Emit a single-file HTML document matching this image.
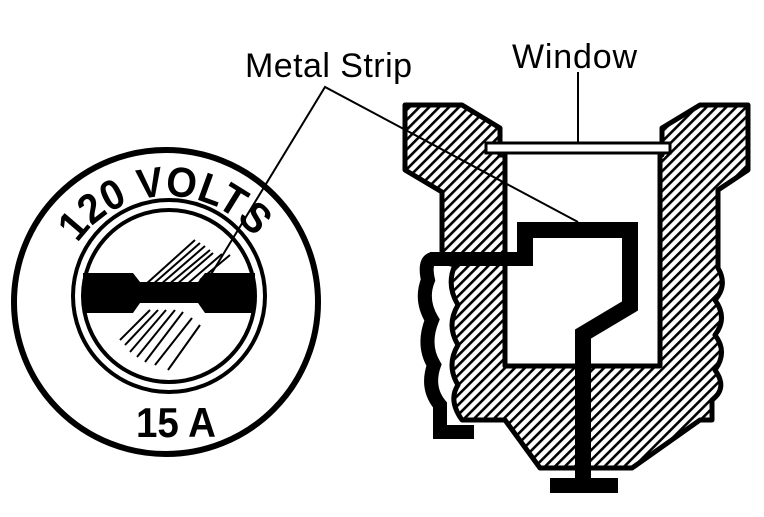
<!DOCTYPE html>
<html><head><style>html,body{margin:0;padding:0;background:#fff}</style></head><body>
<svg width="764" height="512" viewBox="0 0 764 512" xmlns="http://www.w3.org/2000/svg">
<defs>
<pattern id="h" patternUnits="userSpaceOnUse" width="7" height="7" patternTransform="rotate(45)">
<rect width="7" height="7" fill="#fff"/><rect x="0" y="0" width="2.6" height="7" fill="#000"/>
</pattern>
<path id="arc" d="M 58 306 A 110 110 0 0 1 278 306"/>
</defs>
<text x="245" y="77" font-family="Liberation Sans, sans-serif" font-size="34" fill="#000" textLength="167">Metal Strip</text>
<text x="512" y="68" font-family="Liberation Sans, sans-serif" font-size="34" fill="#000" textLength="125">Window</text>
<line x1="578" y1="72" x2="578" y2="142" stroke="#000" stroke-width="2"/>
<!-- fuse cap -->
<circle cx="166" cy="302" r="152" fill="#fff" stroke="#000" stroke-width="6"/>
<circle cx="169" cy="296" r="96" fill="#fff" stroke="#000" stroke-width="4"/>
<circle cx="169" cy="296" r="86" fill="#fff" stroke="#000" stroke-width="4"/>
<g stroke="#000" stroke-width="2">
<line x1="145" y1="285" x2="195" y2="240"/><line x1="152" y1="285" x2="200" y2="243"/><line x1="160" y1="285" x2="205" y2="246"/><line x1="168" y1="285" x2="210" y2="250"/><line x1="176" y1="285" x2="213" y2="253"/><line x1="186" y1="285" x2="222" y2="254"/><line x1="200" y1="280" x2="230" y2="255"/>
<line x1="120" y1="340" x2="150" y2="310"/><line x1="125" y1="345" x2="158" y2="310"/><line x1="130" y1="352" x2="166" y2="310"/><line x1="137" y1="357" x2="175" y2="310"/><line x1="145" y1="362" x2="183" y2="312"/><line x1="155" y1="365" x2="192" y2="318"/><line x1="168" y1="370" x2="200" y2="325"/>
</g>
<path d="M83 273 H133 L140 282 H198 L205 273 H255 V313 H205 L198 303 H140 L133 313 H83 Z" fill="#000"/>
<text font-family="Liberation Sans, sans-serif" font-size="42" font-weight="bold" fill="#000" text-anchor="middle"><textPath href="#arc" startOffset="49%" textLength="205" lengthAdjust="spacingAndGlyphs">120 VOLTS</textPath></text>
<text x="136" y="437" font-family="Liberation Sans, sans-serif" font-size="42" font-weight="bold" fill="#000" textLength="80" lengthAdjust="spacingAndGlyphs">15 A</text>
<!-- fuse body -->
<path d="M405 105 H462 L500 128 V155 H505 V366 H660 V155 H662 V128 L700 105 H748 V170 L718 190 V268 Q728 285 715 300 Q728 318 715 335 Q728 352 715 370 Q728 388 712 400 V420 H700 L632 468 H540 L505 420 H462 Q448 400 458 385 Q446 365 458 345 Q446 325 458 305 Q446 285 455 265 L442 262 V192 L405 170 Z" fill="url(#h)" stroke="#000" stroke-width="5" stroke-linejoin="round"/>
<rect x="486" y="143" width="184" height="10" fill="#fff" stroke="#000" stroke-width="3"/>
<!-- metal strip -->
<path d="M525 266 V230 H630 V306 L583 334 V486" fill="none" stroke="#000" stroke-width="16" stroke-linejoin="miter"/>
<path d="M528 259 H432 Q424 262 428 280 Q420 300 432 320 Q422 345 434 365 Q426 388 440 405 V432 H474" fill="none" stroke="#000" stroke-width="14"/>
<rect x="550" y="478" width="68" height="15" fill="#000"/>
<!-- leaders -->
<polyline points="210,276 325,87 578,222" fill="none" stroke="#000" stroke-width="2"/>
</svg>
</body></html>
